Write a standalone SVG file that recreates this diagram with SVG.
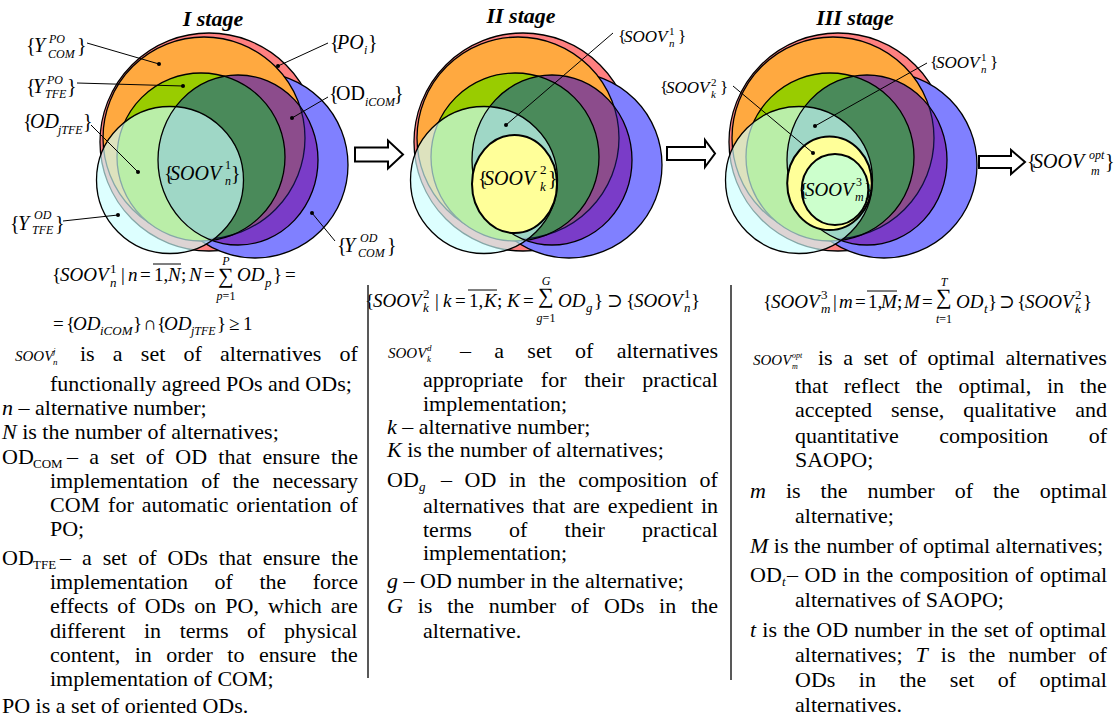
<svg xmlns="http://www.w3.org/2000/svg" width="1116" height="721" viewBox="0 0 1116 721">
<style>
text { font-family: "Liberation Serif", "DejaVu Serif", serif; fill: #000; }
.t { font-size: 22px; }
.f { font-size: 19px; }
.lb { font-size: 20px; }
.ls { font-size: 17px; }
.i { font-style: italic; }
.s { font-size: 12px; }
.s13 { font-size: 13px; }
.tiny { font-size: 9px; }
.small { font-size: 15px; }
.ttl { font-size: 22px; font-weight: bold; font-style: italic; }
.sg { font-size: 22px; }
.lead { stroke: #000; stroke-width: 1; fill: none; }
.arr { fill: #fff; stroke: #000; stroke-width: 2; }
.vl { stroke: #222; stroke-width: 1.5; }
.ov { stroke: #000; stroke-width: 1; }
</style>
<defs>
  <circle id="cR" cx="209" cy="142" r="109"/>
  <circle id="cB" cx="255" cy="165" r="93"/>
  <circle id="cO" cx="204" cy="138" r="101"/>
  <circle id="cG" cx="201" cy="157" r="84"/>
  <ellipse id="eP" cx="238" cy="160" rx="80" ry="85"/>
  <circle id="cC" cx="170" cy="180" r="73.5"/>
  <clipPath id="clipO"><use href="#cO"/></clipPath>
  <clipPath id="clipG"><use href="#cG"/></clipPath>
  <clipPath id="clipP"><use href="#eP"/></clipPath>
  <g id="venn">
    <use href="#cR" fill="#FF8080" stroke="#000" stroke-width="1.3"/>
    <use href="#cB" fill="#8080FF" stroke="#000" stroke-width="1.3"/>
    <use href="#cO" fill="#FFA940" stroke="#000" stroke-width="1.3"/>
    <use href="#cG" fill="#99CC00" stroke="#000" stroke-width="1.3"/>
    <use href="#eP" fill="#7A3CC8"/>
    <use href="#eP" fill="#8C4C8C" clip-path="url(#clipO)"/>
    <use href="#eP" fill="#4A8A5A" clip-path="url(#clipG)"/>
    <use href="#cO" fill="none" stroke="#101040" stroke-width="1.3" clip-path="url(#clipP)"/>
    <use href="#cG" fill="none" stroke="#000" stroke-width="1.3" clip-path="url(#clipP)"/>
    <use href="#cC" fill="#CCFFFF" fill-opacity="0.66"/>
    <use href="#eP" fill="none" stroke="#000" stroke-width="1.3"/>
    <use href="#cC" fill="none" stroke="#000" stroke-width="1.3"/>
  </g>
</defs>

<!-- Stage I -->
<g id="stage1">
  <use href="#venn"/>
  <text class="ttl" x="213" y="26" text-anchor="middle">I stage</text>
</g>

<!-- Stage II -->
<g id="stage2">
  <use href="#venn" transform="translate(314,0)"/>
  <ellipse cx="514.5" cy="184" rx="42.5" ry="49" fill="#FFFF99" stroke="#000" stroke-width="2"/>
  <text class="ttl" x="521" y="23" text-anchor="middle">II stage</text>
</g>

<!-- Stage III -->
<g id="stage3">
  <use href="#venn" transform="translate(629,0)"/>
  <ellipse cx="829.5" cy="183.3" rx="42.3" ry="46.7" fill="#FFFF99" stroke="#000" stroke-width="2"/>
  <ellipse cx="835" cy="189.5" rx="33.3" ry="35.5" fill="#CCFFCC" stroke="#000" stroke-width="2"/>
  <text class="ttl" x="855" y="25" text-anchor="middle">III stage</text>
</g>

<!-- connectors: leader lines and arrows -->
<g id="connectors">
  <path class="lead" d="M87,43 L159,64 M328,43 L278,66 M77,83 L183,86 M328,97 L292,118 M91,125 L138,172 M63,221 L118,215 M335,241 L312,213 M613,33 L506,125 M927,63 L815,126 M733,86 L813,153"/>
  <g fill="#000">
    <circle cx="159" cy="64" r="2"/><circle cx="278" cy="66" r="2"/><circle cx="183" cy="86" r="2"/>
    <circle cx="292" cy="118" r="2"/><circle cx="138" cy="172" r="2"/><circle cx="118" cy="215" r="2"/>
    <circle cx="312" cy="213" r="2"/><circle cx="506" cy="125" r="2"/><circle cx="815" cy="126" r="2"/>
    <circle cx="813" cy="153" r="2"/>
  </g>
  <polygon class="arr" points="355,147.5 388,147.5 388,140.5 403,154.5 388,168.5 388,161.5 355,161.5"/>
  <polygon class="arr" points="667,147 705,147 705,140 715,153.5 705,167 705,160 667,160"/>
  <polygon class="arr" points="979,156 1011,156 1011,150 1025,162 1011,174 1011,168 979,168"/>
</g>

<!-- Stage I labels -->
<g id="labels1" class="lb">
  <text><tspan x="26" y="52">{</tspan><tspan class="i" x="34">Y</tspan><tspan class="i s" x="49" y="43">PO</tspan><tspan class="i s" x="48" y="58">COM</tspan><tspan x="77" y="52">}</tspan></text>
  <text><tspan x="330" y="49">{</tspan><tspan class="i" x="337">PO</tspan><tspan class="i s" x="364" y="54">i</tspan><tspan x="368" y="49">}</tspan></text>
  <text><tspan x="26" y="93">{</tspan><tspan class="i" x="33">Y</tspan><tspan class="i s" x="47" y="84">PO</tspan><tspan class="i s" x="45" y="98">TFE</tspan><tspan x="67" y="93">}</tspan></text>
  <text><tspan x="329" y="100">{</tspan><tspan x="336">OD</tspan><tspan class="i s" x="365" y="106">iCOM</tspan><tspan x="394" y="100">}</tspan></text>
  <text><tspan x="23" y="128">{</tspan><tspan class="i" x="30">OD</tspan><tspan class="i s" x="58" y="134">jTFE</tspan><tspan x="83" y="128">}</tspan></text>
  <text><tspan x="10" y="230">{</tspan><tspan class="i" x="18">Y</tspan><tspan class="i s" x="34" y="219">OD</tspan><tspan class="i s" x="32" y="234">TFE</tspan><tspan x="55" y="230">}</tspan></text>
  <text><tspan x="337" y="252">{</tspan><tspan class="i" x="344">Y</tspan><tspan class="i s" x="360" y="242">OD</tspan><tspan class="i s" x="358" y="257">COM</tspan><tspan x="387" y="252">}</tspan></text>
  <text><tspan x="164" y="180">{</tspan><tspan class="i" x="170">SOOV</tspan><tspan class="s" x="225" y="169">1</tspan><tspan class="i s" x="225" y="185">n</tspan><tspan x="231" y="180">}</tspan></text>
</g>

<!-- Stage II labels -->
<g id="labels2">
  <text class="ls"><tspan x="618" y="42">{</tspan><tspan class="i" x="624">SOOV</tspan><tspan style="font-size:11px" x="669" y="35">1</tspan><tspan class="i" style="font-size:11px" x="669" y="47">n</tspan><tspan x="678" y="42">}</tspan></text>
  <text style="font-size:20px"><tspan x="478" y="185">{</tspan><tspan class="i" x="484">SOOV</tspan><tspan class="s13" x="540" y="174">2</tspan><tspan class="i s13" x="540" y="191">k</tspan><tspan x="548" y="185">}</tspan></text>
</g>

<!-- Stage III labels -->
<g id="labels3">
  <text class="ls"><tspan x="930" y="68">{</tspan><tspan class="i" x="936">SOOV</tspan><tspan style="font-size:11px" x="981" y="61">1</tspan><tspan class="i" style="font-size:11px" x="981" y="73">n</tspan><tspan x="990" y="68">}</tspan></text>
  <text class="ls"><tspan x="660" y="93">{</tspan><tspan class="i" x="666">SOOV</tspan><tspan style="font-size:11px" x="711" y="86">2</tspan><tspan class="i" style="font-size:11px" x="711" y="98">k</tspan><tspan x="720" y="93">}</tspan></text>
  <text style="font-size:19px"><tspan x="799" y="196">{</tspan><tspan class="i" x="805">SOOV</tspan><tspan class="s" x="856" y="186">3</tspan><tspan class="i s" x="855" y="201">m</tspan><tspan x="864" y="196">}</tspan></text>
  <text class="lb"><tspan x="1027" y="168">{</tspan><tspan class="i" x="1033">SOOV</tspan><tspan class="i s" x="1089" y="159">opt</tspan><tspan class="i s" x="1091" y="175">m</tspan><tspan x="1105" y="168">}</tspan></text>
</g>

<!-- Formulas -->
<g id="formula1" class="f">
  <text><tspan x="52" y="281">{</tspan><tspan class="i" x="60">SOOV</tspan><tspan class="s13" x="110" y="273">1</tspan><tspan class="i s13" x="110" y="287">n</tspan><tspan x="121" y="281">|</tspan><tspan class="i" x="128">n</tspan><tspan x="140">=</tspan><tspan x="154">1,</tspan><tspan class="i" x="168">N</tspan><tspan x="181">;</tspan><tspan class="i" x="189">N</tspan><tspan x="204">=</tspan><tspan class="sg" x="218" y="283">∑</tspan><tspan class="i" x="237" y="281">OD</tspan><tspan class="i s13" x="265" y="287">p</tspan><tspan x="273" y="281">}</tspan><tspan x="285">=</tspan></text>
  <text class="s" x="226" y="265" text-anchor="middle"><tspan class="i">P</tspan></text>
  <text class="s" x="226" y="300" text-anchor="middle"><tspan class="i">p</tspan>=1</text>
  <line class="ov" x1="153" y1="264" x2="181" y2="264"/>
  <text><tspan x="53" y="330">=</tspan><tspan x="66">{</tspan><tspan class="i" x="73">OD</tspan><tspan class="i s13" x="100" y="335">iCOM</tspan><tspan x="133" y="330">}</tspan><tspan x="143">∩</tspan><tspan x="157">{</tspan><tspan class="i" x="164">OD</tspan><tspan class="i s" x="191" y="335">jTFE</tspan><tspan x="217" y="330">}</tspan><tspan x="229">≥</tspan><tspan x="243">1</tspan></text>
</g>

<g id="formula2" class="f">
  <text><tspan x="365" y="307">{</tspan><tspan class="i" x="373">SOOV</tspan><tspan class="s13" x="423" y="298">2</tspan><tspan class="i s13" x="423" y="312">k</tspan><tspan x="435" y="307">|</tspan><tspan class="i" x="443">k</tspan><tspan x="455">=</tspan><tspan x="469">1,</tspan><tspan class="i" x="484">K</tspan><tspan x="497">;</tspan><tspan class="i" x="507">K</tspan><tspan x="523">=</tspan><tspan class="sg" x="538" y="303">∑</tspan><tspan class="i" x="558" y="307">OD</tspan><tspan class="i s13" x="586" y="312">g</tspan><tspan x="594" y="307">}</tspan><tspan x="607">⊃</tspan><tspan x="626">{</tspan><tspan class="i" x="634">SOOV</tspan><tspan class="s13" x="684" y="298">1</tspan><tspan class="i s13" x="684" y="312">n</tspan><tspan x="691" y="307">}</tspan></text>
  <text class="s" x="546" y="285" text-anchor="middle"><tspan class="i">G</tspan></text>
  <text class="s" x="546" y="322" text-anchor="middle"><tspan class="i">g</tspan>=1</text>
  <line class="ov" x1="468" y1="290" x2="497" y2="290"/>
</g>

<g id="formula3" class="f">
  <text><tspan x="763" y="308">{</tspan><tspan class="i" x="771">SOOV</tspan><tspan class="s13" x="821" y="299">3</tspan><tspan class="i s13" x="821" y="313">m</tspan><tspan x="833" y="308">|</tspan><tspan class="i" x="839">m</tspan><tspan x="855">=</tspan><tspan x="868">1,</tspan><tspan class="i" x="881">M</tspan><tspan x="897">;</tspan><tspan class="i" x="904">M</tspan><tspan x="922">=</tspan><tspan class="sg" x="936" y="304">∑</tspan><tspan class="i" x="956" y="308">OD</tspan><tspan class="i s13" x="984" y="313">t</tspan><tspan x="988" y="308">}</tspan><tspan x="999">⊃</tspan><tspan x="1017">{</tspan><tspan class="i" x="1025">SOOV</tspan><tspan class="s13" x="1075" y="299">2</tspan><tspan class="i s13" x="1075" y="313">k</tspan><tspan x="1083" y="308">}</tspan></text>
  <text class="s" x="944" y="286" text-anchor="middle"><tspan class="i">T</tspan></text>
  <text class="s" x="944" y="323" text-anchor="middle"><tspan class="i">t</tspan>=1</text>
  <line class="ov" x1="867" y1="291" x2="897" y2="291"/>
</g>

<!-- Column separators -->
<g id="separators">
  <line class="vl" x1="368" y1="285" x2="368" y2="678"/>
  <line class="vl" x1="731" y1="285" x2="731" y2="680"/>
</g>

<!-- Column I text -->
<g id="col1" class="t">
  <text class="i small" x="15" y="361">SOOV</text>
  <text class="i tiny" x="53" y="354">j</text>
  <text class="i tiny" x="53" y="365">n</text>
  <text x="80" y="361" word-spacing="12.7">is a set of alternatives of</text>
  <text x="50" y="391">functionally agreed POs and ODs;</text>
  <text x="2" y="415"><tspan class="i">n</tspan> – alternative number;</text>
  <text x="2" y="439"><tspan class="i">N</tspan> is the number of alternatives;</text>
  <text x="2" y="464">OD</text><text class="s13" x="33" y="468">COM</text>
  <text x="67" y="464" word-spacing="5.7">– a set of OD that ensure the</text>
  <text x="50" y="488" word-spacing="7.6">implementation of the necessary</text>
  <text x="50" y="512" word-spacing="2.45">COM for automatic orientation of</text>
  <text x="50" y="536">PO;</text>
  <text x="2" y="565">OD</text><text class="s13" x="33" y="569">TFE</text>
  <text x="60" y="565" word-spacing="5.5">– a set of ODs that ensure the</text>
  <text x="50" y="589" word-spacing="21">implementation of the force</text>
  <text x="50" y="613" word-spacing="3.6">effects of ODs on PO, which are</text>
  <text x="50" y="638" word-spacing="13.1">different in terms of physical</text>
  <text x="50" y="662" word-spacing="9">content, in order to ensure the</text>
  <text x="50" y="686">implementation of COM;</text>
  <text x="2" y="713">PO is a set of oriented ODs.</text>
</g>

<!-- Column II text -->
<g id="col2" class="t">
  <text class="i small" x="388" y="358">SOOV</text>
  <text class="i tiny" x="427" y="351">d</text>
  <text class="i tiny" x="427" y="362">k</text>
  <text x="460" y="358" word-spacing="17.8">– a set of alternatives</text>
  <text x="423" y="387" word-spacing="12.2">appropriate for their practical</text>
  <text x="423" y="411">implementation;</text>
  <text x="387" y="434"><tspan class="i">k</tspan> – alternative number;</text>
  <text x="387" y="457"><tspan class="i">K</tspan> is the number of alternatives;</text>
  <text x="387" y="487">OD</text><text class="i s13" x="419" y="491">g</text>
  <text x="441" y="487" word-spacing="7.1">– OD in the composition of</text>
  <text x="423" y="513" word-spacing="2.3">alternatives that are expedient in</text>
  <text x="423" y="537" word-spacing="31.7">terms of their practical</text>
  <text x="423" y="560">implementation;</text>
  <text x="387" y="588"><tspan class="i">g</tspan> – OD number in the alternative;</text>
  <text x="387" y="613" word-spacing="9.3"><tspan class="i">G</tspan> is the number of ODs in the</text>
  <text x="423" y="638">alternative.</text>
</g>

<!-- Column III text -->
<g id="col3" class="t">
  <text class="i small" x="753" y="365">SOOV</text>
  <text class="i" style="font-size:8px" x="792" y="358">opt</text>
  <text class="i" style="font-size:8px" x="792" y="369">m</text>
  <text x="818" y="365" word-spacing="5.1">is a set of optimal alternatives</text>
  <text x="795" y="393" word-spacing="10.3">that reflect the optimal, in the</text>
  <text x="795" y="417" word-spacing="13.6">accepted sense, qualitative and</text>
  <text x="795" y="443" word-spacing="35">quantitative composition of</text>
  <text x="795" y="467">SAOPO;</text>
  <text x="750" y="498" word-spacing="14.5"><tspan class="i">m</tspan> is the number of the optimal</text>
  <text x="795" y="523">alternative;</text>
  <text x="750" y="553"><tspan class="i">M</tspan> is the number of optimal alternatives;</text>
  <text x="750" y="582">OD</text><text class="i s13" x="782" y="586">t</text>
  <text x="787" y="582" word-spacing="1">– OD in the composition of optimal</text>
  <text x="795" y="607">alternatives of SAOPO;</text>
  <text x="750" y="637" word-spacing="0.7"><tspan class="i">t</tspan> is the OD number in the set of optimal</text>
  <text x="795" y="662" word-spacing="7.5">alternatives; <tspan class="i">T</tspan> is the number of</text>
  <text x="795" y="687" word-spacing="18">ODs in the set of optimal</text>
  <text x="795" y="712">alternatives.</text>
</g>
</svg>
